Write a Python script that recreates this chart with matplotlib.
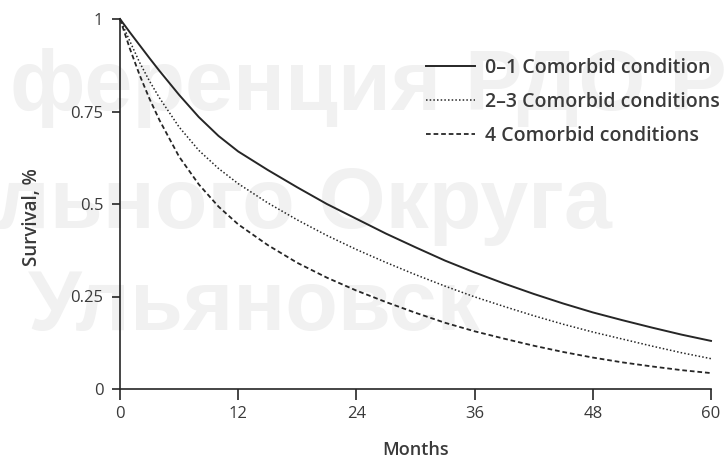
"""
Survival by number of comorbid conditions over 60 months of follow-up.
"""

import matplotlib
matplotlib.use("Agg")
import matplotlib.pyplot as plt

INK = "#262626"
TEXT = "#3a3a3a"
MARK = "#f1f1f1"

plt.rcParams.update({
    "font.family": ["Open Sans", "DejaVu Sans"],
    "font.size": 12,
    "axes.edgecolor": INK,
    "axes.linewidth": 1.2,
    "xtick.color": INK,
    "ytick.color": INK,
    "xtick.labelcolor": TEXT,
    "ytick.labelcolor": TEXT,
    "axes.spines.top": False,
    "axes.spines.right": False,
})

# follow-up time, months
months = [0, 1, 2, 3, 4, 6, 8, 10, 12, 15, 18, 21, 24, 27, 30,
          33, 36, 39, 42, 45, 48, 51, 54, 57, 60]

# survival fraction per comorbidity group
surv_0_1 = [1.0, 0.964, 0.929, 0.894, 0.86, 0.795, 0.735, 0.684, 0.642, 0.592,
            0.545, 0.50, 0.46, 0.42, 0.383, 0.347, 0.315, 0.285, 0.257, 0.231,
            0.207, 0.186, 0.166, 0.147, 0.13]
surv_2_3 = [1.0, 0.94, 0.882, 0.832, 0.787, 0.708, 0.645, 0.596, 0.555, 0.503,
            0.457, 0.415, 0.377, 0.342, 0.309, 0.278, 0.249, 0.223, 0.198,
            0.175, 0.154, 0.135, 0.116, 0.098, 0.082]
surv_4 = [1.0, 0.92, 0.848, 0.784, 0.727, 0.628, 0.553, 0.493, 0.445, 0.389,
          0.341, 0.301, 0.266, 0.235, 0.206, 0.179, 0.156, 0.136, 0.117,
          0.100, 0.085, 0.072, 0.061, 0.051, 0.043]

labels = ["0\u20131 Comorbid condition", "2\u20133 Comorbid conditions",
          "4 Comorbid conditions"]

x_ticks = [0, 12, 24, 36, 48, 60]
y_ticks = [0, 0.25, 0.5, 0.75, 1]
y_tick_labels = ["0", "0.25", "0.5", "0.75", "1"]

fig = plt.figure(figsize=(7.24, 4.59), dpi=100)

# faint background stamp, kept under the axes
stamp = dict(color=MARK, fontsize=62, fontweight="bold",
             family="Liberation Sans", va="baseline", ha="left", zorder=0)
fig.text(10 / 724, 1 - 110 / 459, "ференция РДО Р", **stamp)
fig.text(-5 / 724, 1 - 228 / 459, "льного Округа", **stamp)
fig.text(28 / 724, 1 - 330 / 459, "Ульяновск", **stamp)

ax = fig.add_axes([120 / 724, 1 - 389 / 459, 591 / 724, 370 / 459])
ax.set_zorder(2)
ax.patch.set_alpha(0)

ax.plot(months, surv_0_1, color=INK, lw=1.4, ls="-", label=labels[0],
        clip_on=False)
ax.plot(months, surv_2_3, color=INK, lw=1.1, ls=(0, (1, 1.4)),
        label=labels[1], clip_on=False)
ax.plot(months, surv_4, color=INK, lw=1.3, ls=(0, (2.6, 1.6)),
        label=labels[2], clip_on=False)

ax.set_xlim(0, 60)
ax.set_ylim(0, 1)
ax.set_xticks(x_ticks)
ax.set_yticks(y_ticks)
ax.set_yticklabels(y_tick_labels)
ax.tick_params(axis="x", length=8, width=1.2, pad=4)
ax.tick_params(axis="y", length=6, width=1.2, pad=6)

ax.set_xlabel("Months", fontsize=13, color=TEXT, fontweight="semibold",
              labelpad=14)
ax.set_ylabel("Survival, %", fontsize=13.5, color=TEXT,
              fontweight="semibold")
ax.yaxis.set_label_coords(-0.132, 0.465)

leg = ax.legend(loc="upper left", bbox_to_anchor=(426 / 724, 1 - 58 / 459),
                bbox_transform=fig.transFigure, frameon=False,
                fontsize=14, handlelength=2.5, handletextpad=0.55,
                labelspacing=0.72, borderpad=0, borderaxespad=0)
for t in leg.get_texts():
    t.set_color(TEXT)
    t.set_fontweight("semibold")

fig.savefig("out.png", dpi=100, facecolor="white")
